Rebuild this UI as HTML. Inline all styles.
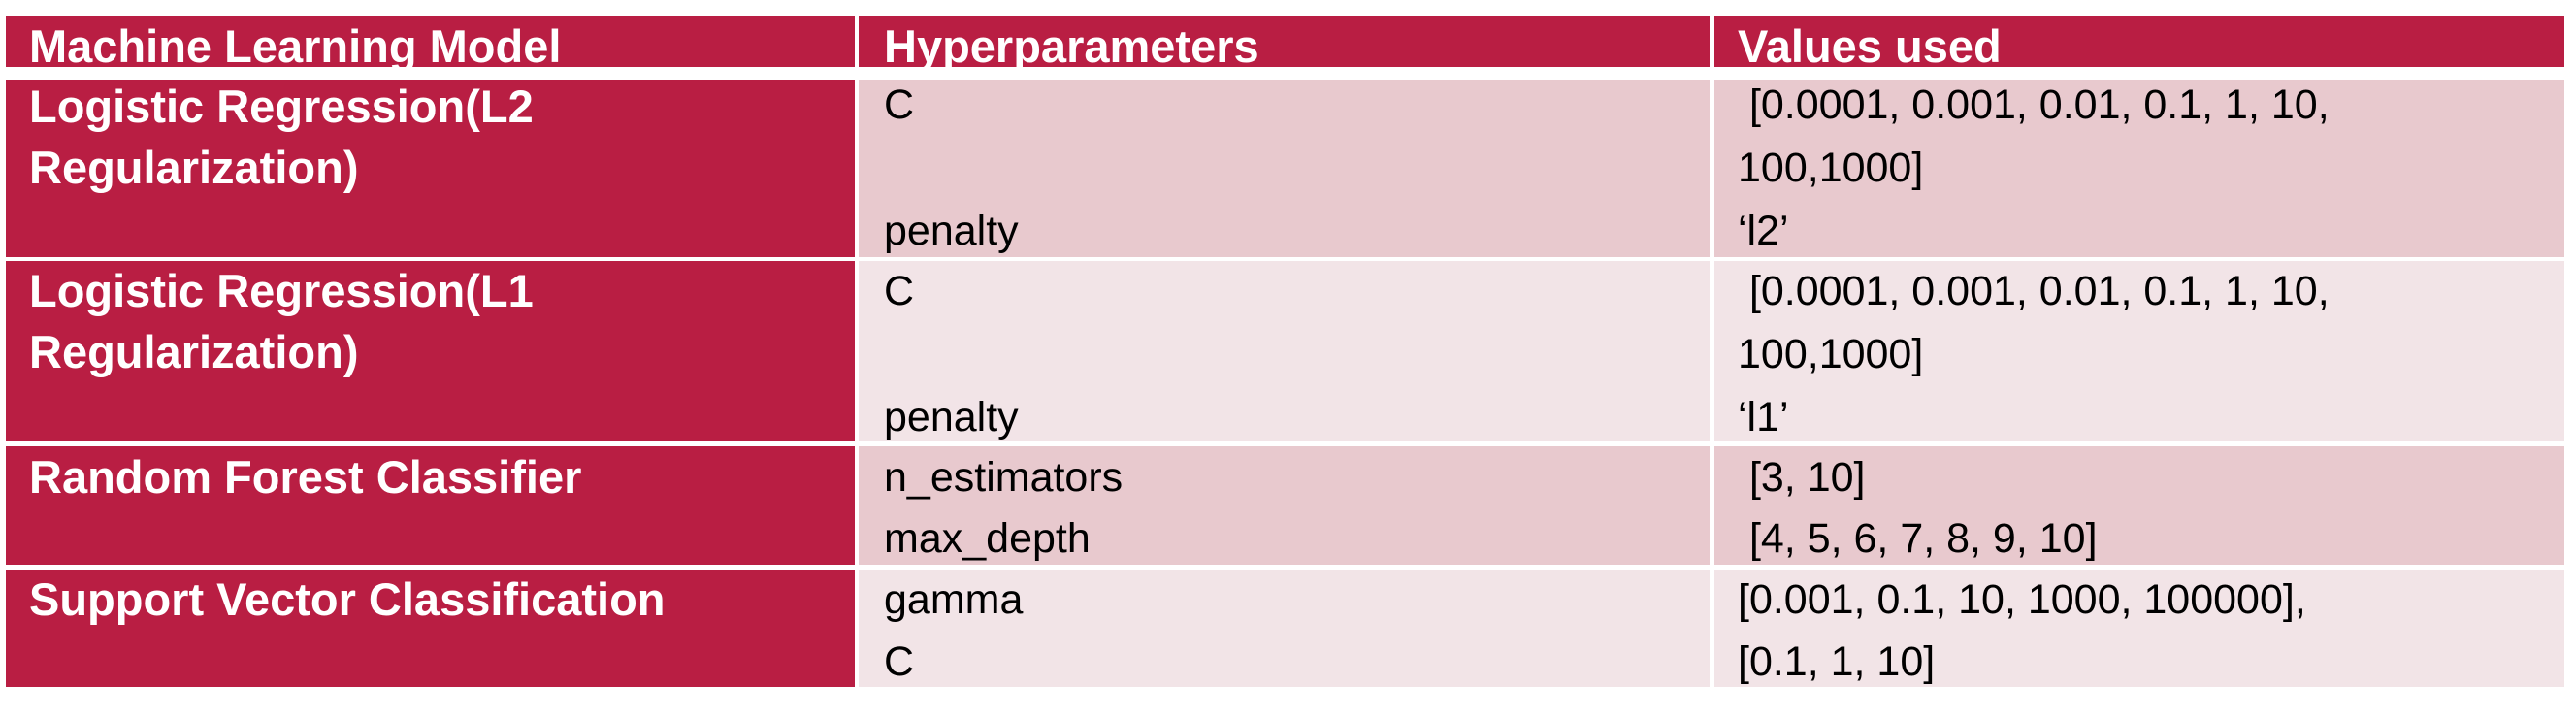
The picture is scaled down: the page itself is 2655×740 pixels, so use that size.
<!DOCTYPE html>
<html><head><meta charset="utf-8"><style>
html,body{margin:0;padding:0;background:#fff;}
body{width:2655px;height:740px;position:relative;overflow:hidden;font-family:"Liberation Sans",sans-serif;}
.r{position:absolute;}
.h{background:#B91E43;}
.a{background:#E8C9CE;}
.b{background:#F2E4E7;}
.t{position:absolute;white-space:pre;line-height:1;font-size:43px;color:#000;}
.w{color:#fff;font-weight:bold;font-size:47px;}
</style></head><body>
<!-- header -->
<div class="r h" style="left:6px;top:16px;width:875px;height:53px"></div>
<div class="r h" style="left:885px;top:16px;width:877px;height:53px"></div>
<div class="r h" style="left:1767px;top:16px;width:876px;height:53px"></div>
<!-- row1 -->
<div class="r h" style="left:6px;top:82px;width:875px;height:183px"></div>
<div class="r a" style="left:885px;top:82px;width:877px;height:183px"></div>
<div class="r a" style="left:1767px;top:82px;width:876px;height:183px"></div>
<!-- row2 -->
<div class="r h" style="left:6px;top:269px;width:875px;height:186px"></div>
<div class="r b" style="left:885px;top:269px;width:877px;height:186px"></div>
<div class="r b" style="left:1767px;top:269px;width:876px;height:186px"></div>
<!-- row3 -->
<div class="r h" style="left:6px;top:460px;width:875px;height:122px"></div>
<div class="r a" style="left:885px;top:460px;width:877px;height:122px"></div>
<div class="r a" style="left:1767px;top:460px;width:876px;height:122px"></div>
<!-- row4 -->
<div class="r h" style="left:6px;top:587px;width:875px;height:121px"></div>
<div class="r b" style="left:885px;top:587px;width:877px;height:121px"></div>
<div class="r b" style="left:1767px;top:587px;width:876px;height:121px"></div>

<div class="t w" style="left:30px;top:24px">Machine Learning Model</div>
<div class="t w" style="left:911px;top:24px">Hyperparameters</div>
<div class="t w" style="left:1791px;top:24px">Values used</div>

<div class="t w" style="left:30px;top:86px">Logistic Regression(L2</div>
<div class="t w" style="left:30px;top:149px">Regularization)</div>
<div class="t" style="left:911px;top:87px">C</div>
<div class="t" style="left:911px;top:217px">penalty</div>
<div class="t" style="left:1791px;top:87px"> [0.0001, 0.001, 0.01, 0.1, 1, 10,</div>
<div class="t" style="left:1791px;top:152px">100,1000]</div>
<div class="t" style="left:1791px;top:217px">‘l2’</div>

<div class="t w" style="left:30px;top:276px">Logistic Regression(L1</div>
<div class="t w" style="left:30px;top:339px">Regularization)</div>
<div class="t" style="left:911px;top:279px">C</div>
<div class="t" style="left:911px;top:409px">penalty</div>
<div class="t" style="left:1791px;top:279px"> [0.0001, 0.001, 0.01, 0.1, 1, 10,</div>
<div class="t" style="left:1791px;top:344px">100,1000]</div>
<div class="t" style="left:1791px;top:409px">‘l1’</div>

<div class="t w" style="left:30px;top:468px">Random Forest Classifier</div>
<div class="t" style="left:911px;top:471px">n_estimators</div>
<div class="t" style="left:911px;top:534px">max_depth</div>
<div class="t" style="left:1791px;top:471px"> [3, 10]</div>
<div class="t" style="left:1791px;top:534px"> [4, 5, 6, 7, 8, 9, 10]</div>

<div class="t w" style="left:30px;top:594px">Support Vector Classification</div>
<div class="t" style="left:911px;top:597px">gamma</div>
<div class="t" style="left:911px;top:661px">C</div>
<div class="t" style="left:1791px;top:597px">[0.001, 0.1, 10, 1000, 100000],</div>
<div class="t" style="left:1791px;top:661px">[0.1, 1, 10]</div>
</body></html>
